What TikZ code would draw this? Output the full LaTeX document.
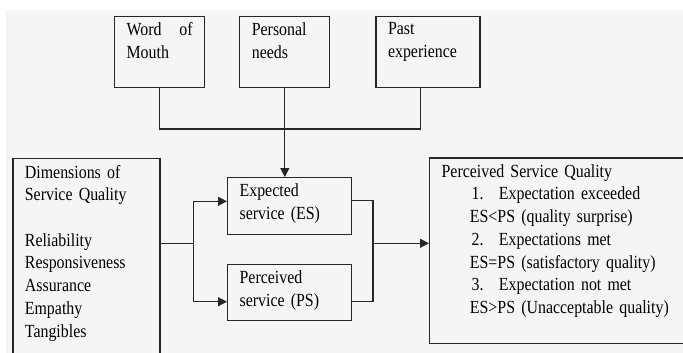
\documentclass[tikz,border=0pt]{standalone}
\usepackage{fontspec}
\setmainfont[FakeStretch=0.86]{Liberation Serif}
\usetikzlibrary{arrows.meta,positioning}

\definecolor{panel}{HTML}{F5F5F5}
\definecolor{ink}{HTML}{262626}

\begin{document}
\begin{tikzpicture}[x=1pt,y=-1pt,line width=1.2pt,color=ink,text=black,
  font=\fontsize{18.5}{22.7}\selectfont,
  box/.style={draw,anchor=north west,inner sep=0pt},
  txt/.style={anchor=north west,align=left,inner xsep=12pt,inner ysep=6.5pt,text width=#1},
  arr/.style={-{Triangle[length=9pt,width=9pt]}}]
  \useasboundingbox (0,0) rectangle (683,353);
  \fill[panel] (6,10) rectangle (683,353);
  % sources of expectation
  \node[box,minimum width=90pt,minimum height=71.3pt,
    label={[txt=66pt]north west:{\hbox to 66pt{Word\hfill of}\\Mouth}}] (word) at (114,15.7) {};
  \node[box,minimum width=90pt,minimum height=71.3pt,right=34pt of word,
    label={[txt=66pt]north west:{Personal\\needs}}] (personal) {};
  \node[box,minimum width=104pt,minimum height=71.3pt,right=45pt of personal,
    label={[txt=80pt]north west:{Past\\experience}}] (past) {};
  % service boxes
  \node[box,minimum width=124pt,minimum height=57pt,
    label={[txt=100pt]north west:{Expected\\service (ES)}}] (expected) at (227,177) {};
  \node[box,minimum width=124pt,minimum height=56.7pt,below=28.3pt of expected,
    label={[txt=100pt]north west:{Perceived\\service (PS)}}] (perceived) {};
  \node[box,minimum width=147pt,minimum height=210pt,
    label={[txt=123pt]north west:{Dimensions of\\Service Quality\\[22.7pt]Reliability\\Responsiveness\\Assurance\\Empathy\\Tangibles}}] (dim) at (12.3,158) {};
  \node[box,minimum width=280pt,minimum height=185.4pt,
    label={[txt=250pt]north west:{Perceived Service Quality\\
      \hspace*{30pt}\makebox[27.3pt][l]{1.}Expectation exceeded\\
      \hspace*{28.3pt}ES<PS (quality surprise)\\
      \hspace*{30pt}\makebox[27.3pt][l]{2.}Expectations met\\
      \hspace*{28.3pt}ES=PS (satisfactory quality)\\
      \hspace*{30pt}\makebox[27.3pt][l]{3.}Expectation not met\\
      \hspace*{28.3pt}ES>PS (Unacceptable quality)}}] (psq) at (429,157.3) {};
  % connectors
  \coordinate (bar) at (283,129);
  \coordinate (split) at (193.3,243.3);
  \coordinate (merge) at (373,243.3);
  \draw (word.south) |- (bar) -| ([xshift=-7.3pt]past.south);
  \draw[arr] (personal.south) -- (personal.south |- expected.north);
  \draw (dim.east |- split) -- (split);
  \draw[arr] (split) |- ([yshift=4.8pt]expected.west);
  \draw[arr] (split) |- ([yshift=-9.3pt]perceived.west);
  \draw ([yshift=5.5pt]expected.east) -| (merge);
  \draw ([yshift=-9.3pt]perceived.east) -| (merge);
  \draw[arr] (merge) -- (merge -| psq.west);
\end{tikzpicture}
\end{document}
